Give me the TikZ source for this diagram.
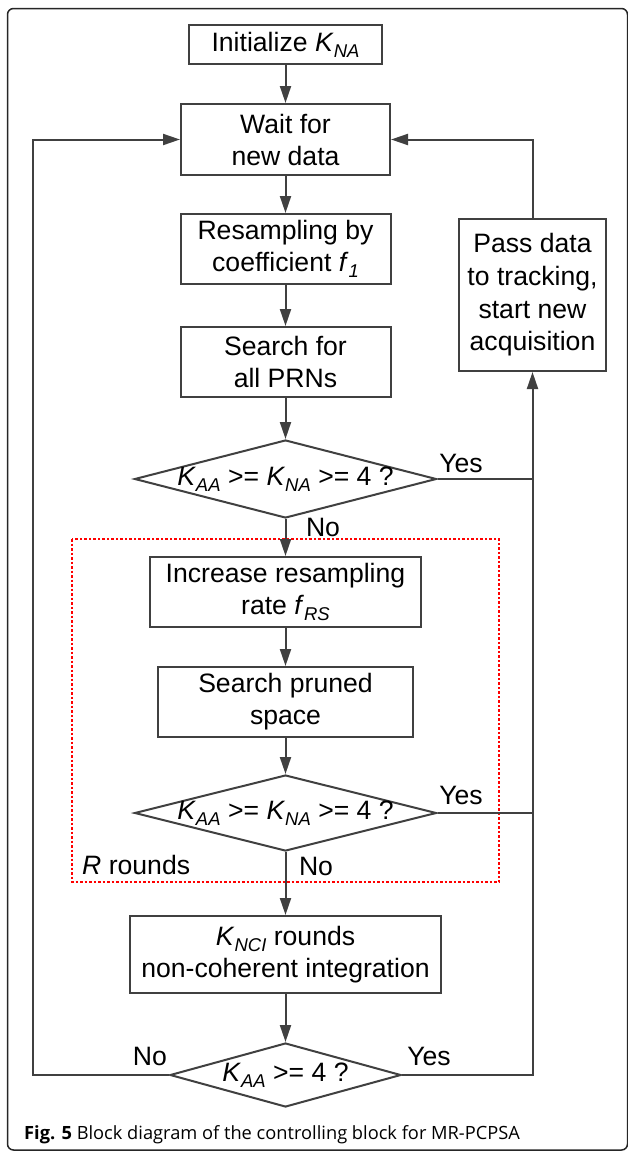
\documentclass[tikz,border=0pt]{standalone}
\usepackage{fontspec}
\setmainfont{Liberation Sans}
\newfontfamily\capfont{Open Sans}
\usetikzlibrary{shapes.geometric,arrows.meta}
\definecolor{lc}{HTML}{404040}
\newcommand\Ksub[2]{\textit{#1}\raisebox{-0.22em}{\fontsize{18.5}{18.5}\selectfont\itshape #2}}
\tikzset{
  x=1pt, y=1pt,
  box/.style={draw=lc, line width=2pt, fill=white, align=center, inner sep=0pt,
    font=\fontsize{26.6}{32}\selectfont},
  dia/.style={draw=lc, line width=2pt, fill=white, shape=diamond, inner sep=0pt,
    font=\fontsize{26.6}{32}\selectfont},
  lbl/.style={inner sep=0pt, font=\fontsize{26.6}{32}\selectfont},
  ln/.style={draw=lc, line width=2pt},
  arr/.style={draw=lc, line width=2pt, -{Triangle[length=17pt,width=11pt]}},
  redbox/.style={draw=red, line width=1.6pt, dash pattern=on 2.5pt off 2pt}
}
\begin{document}
\begin{tikzpicture}
\useasboundingbox (0,0) rectangle (627,-1151);
\draw[line width=1.5pt, draw=black!85, rounded corners=6pt] (7.5,-8.5) rectangle (627.5,-1150);

\node[box, minimum width=193pt, minimum height=39pt] (init) at (285.5,-44.5) {Initialize \Ksub{K}{NA}};
\node[box, minimum width=209pt, minimum height=71pt] (wait) at (285.5,-139.5) {Wait for\\new data};
\node[box, minimum width=210pt, minimum height=70pt] (resamp) at (285.5,-249) {Resampling by\\coefficient \Ksub{f}{1}};
\node[box, minimum width=210pt, minimum height=70pt] (search) at (285.5,-362) {Search for\\all PRNs};
\node[dia, minimum width=302pt, minimum height=78pt] (d1) at (285.5,-479) {\makebox[0pt]{\Ksub{K}{AA} {>}= \Ksub{K}{NA} {>}= 4 ?}};

\draw[redbox] (72,-539) rectangle (499,-882);

\node[box, minimum width=271pt, minimum height=70pt] (inc) at (285.5,-592) {Increase resampling\\rate \Ksub{f}{RS}};
\node[box, minimum width=255pt, minimum height=70pt] (pruned) at (285.5,-702) {Search pruned\\space};
\node[dia, minimum width=302pt, minimum height=76pt] (d2) at (285.5,-813) {\makebox[0pt]{\Ksub{K}{AA} {>}= \Ksub{K}{NA} {>}= 4 ?}};
\node[box, minimum width=311pt, minimum height=77pt] (knci) at (285.5,-954.5) {\Ksub{K}{NCI} rounds\\non-coherent integration};
\node[dia, minimum width=231pt, minimum height=64pt] (d3) at (285.5,-1075) {\makebox[0pt]{\Ksub{K}{AA} {>}= 4 ?}};

\node[box, minimum width=147pt, minimum height=152pt, font=\fontsize{26.6}{32.7}\selectfont] (pass) at (532.5,-295) {Pass data\\to tracking,\\start new\\acquisition};

\coordinate (lc) at (33,-1075);

\draw[arr] (init) -- (wait);
\draw[arr] (wait) -- (resamp);
\draw[arr] (resamp) -- (search);
\draw[arr] (search) -- (d1);
\draw[arr] (d1) -- (inc);
\draw[arr] (inc) -- (pruned);
\draw[arr] (pruned) -- (d2);
\draw[arr] (d2) -- (knci);
\draw[arr] (knci) -- (d3);

\draw[ln] (d1.east) -- (d1.east -| pass.south);
\draw[ln] (d2.east) -- (d2.east -| pass.south);
\draw[arr] (d3.east) -- (d3.east -| pass.south) -- (pass.south);
\draw[arr] (pass.north) |- (wait.east);
\draw[arr] (d3.west) -- (lc) |- (wait.west);

\node[lbl] (y1) at (461,-463) {Yes};
\node[lbl] (n1) at (323,-527) {No};
\node[lbl] (y2) at (461,-795) {Yes};
\node[lbl] (n2) at (316,-866) {No};
\node[lbl, anchor=west] (rr) at (82,-865) {\textit{R} rounds};
\node[lbl] (n3) at (150,-1056) {No};
\node[lbl] (y3) at (429,-1056) {Yes};

\node[anchor=base west, inner sep=0pt, font=\capfont\fontsize{18.25}{22}\selectfont] (cap) at (24,-1139) {\textbf{Fig. 5} Block diagram of the controlling block for MR-PCPSA};
\end{tikzpicture}
\end{document}
